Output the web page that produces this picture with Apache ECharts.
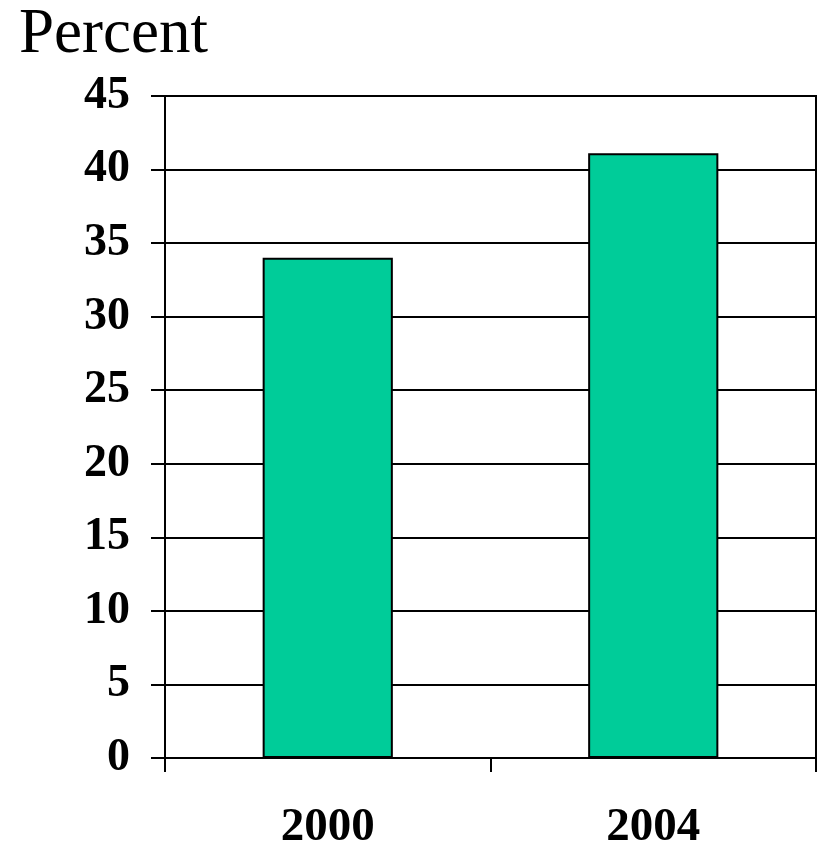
<!DOCTYPE html>
<html>
<head>
<meta charset="utf-8">
<script src="https://cdn.jsdelivr.net/npm/echarts@6/dist/echarts.min.js"></script>
<style>
  html, body { margin: 0; padding: 0; background: #fff; }
  #chart { width: 817px; height: 843px; }
</style>
</head>
<body>
<div id="chart"></div>
<script>
// Share of respondents, by survey year
const years = ['2000', '2004'];
const percentValues = [34, 41.1];
const yTicks = { min: 0, max: 45, step: 5 };
const yTitle = 'Percent';

const chart = echarts.init(document.getElementById('chart'));
chart.setOption({
  animation: false,
  backgroundColor: '#ffffff',
  grid: {
    left: 165, right: 1, top: 96, bottom: 85,
    containLabel: false, outerBoundsMode: 'none',
    show: true, borderColor: '#000', borderWidth: 2, backgroundColor: 'transparent'
  },
  graphic: [{
    type: 'text', left: 19, top: 4,
    style: { text: yTitle, font: '63px "Liberation Serif"', fill: '#000' }
  }],
  xAxis: {
    type: 'category',
    data: years,
    axisLine: { lineStyle: { color: '#000', width: 2 } },
    axisTick: { show: true, length: 14, lineStyle: { color: '#000', width: 2 } },
    axisLabel: {
      margin: 46, color: '#000', fontFamily: 'Liberation Serif',
      fontWeight: 'bold', fontSize: 47
    }
  },
  yAxis: {
    type: 'value',
    min: yTicks.min, max: yTicks.max, interval: yTicks.step,
    axisLine: { show: true, lineStyle: { color: '#000', width: 2 } },
    axisTick: { show: true, length: 14, lineStyle: { color: '#000', width: 2 } },
    splitLine: { show: true, lineStyle: { color: '#000', width: 2 } },
    axisLabel: {
      margin: 35, color: '#000', fontFamily: 'Liberation Serif',
      fontWeight: 'bold', fontSize: 46
    }
  },
  series: [{
    type: 'bar',
    data: percentValues,
    barWidth: '40%',
    itemStyle: { color: '#00CC99', borderColor: '#000', borderWidth: 2 }
  }]
});
</script>
</body>
</html>
